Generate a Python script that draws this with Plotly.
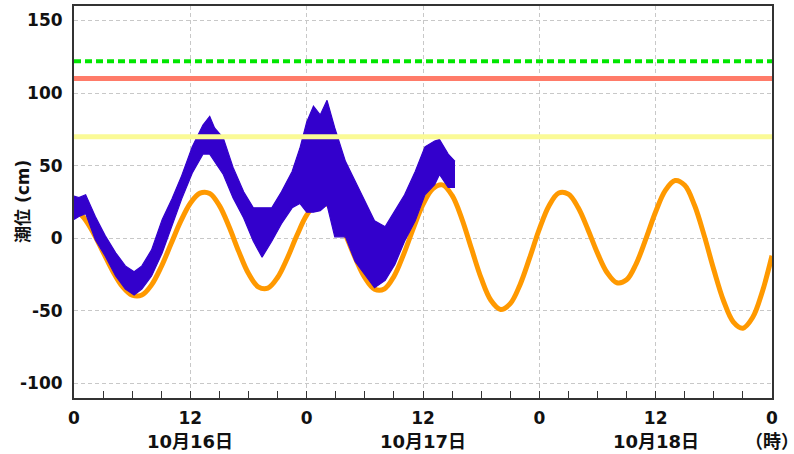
import plotly.graph_objects as go

# ---- data ----
# predicted (astronomical) tide, hourly from 10/16 00:00 to 10/19 00:00
tide_hours = list(range(0, 73))
tide_values = [20.2, 14.3, 3.7, -9.5, -22.7, -33.3, -39.2, -39.1, -32.1, -19.6,
               -4.0, 11.6, 24.2, 31.1, 30.9, 22.5, 7.9, -9.2, -24.3, -33.4,
               -34.3, -27.0, -13.7, 2.1, 15.9, 23.9, 24.0, 16.1, 2.4, -13.4,
               -27.1, -35.0, -34.9, -26.3, -11.1, 6.8, 23.3, 34.1, 36.8, 29.5,
               13.6, -7.1, -27.5, -42.7, -49.0, -45.0, -32.1, -13.5, 6.3, 22.5,
               31.2, 30.4, 21.2, 6.3, -10.2, -23.7, -30.6, -28.6, -17.4, -0.2,
               18.3, 33.0, 39.8, 36.5, 22.9, 2.0, -21.7, -43.0, -57.5, -61.9,
               -54.6, -36.8, -12.0]

# observed tide: envelope (low / high) of the noisy record
obs_hours = [0, 0.5, 1.2, 2.2, 3.2, 4.3, 5.3, 6.2, 7.0, 8.0, 9.1, 10.1, 11.1,
             12.2, 13.3, 14.0, 14.5, 15.4, 16.4, 17.5, 18.5, 19.4, 20.4, 21.4,
             22.5, 23.3, 24.0, 24.7, 25.4, 26.1, 26.9, 28.0, 29.0, 30.0, 31.0, 32.1,
             33.1, 34.1, 35.2, 36.2, 37.2, 37.7, 38.6, 39.3]
obs_high = [29, 28, 30, 15, 2, -10, -19, -23, -19, -8, 13, 27, 43,
            63, 78, 84, 76, 69, 49, 32, 21, 21, 21, 32,
            46, 62, 80, 91, 85, 95, 76, 53, 39, 26, 12, 8,
            19, 30, 46, 63, 67, 68, 58, 53]
obs_low = [13, 15, 17, -1, -12, -26, -35, -39, -35, -26, -10, 8, 27,
           45, 58, 58, 53, 44, 28, 14, -2, -13, -2, 10,
           21, 24, 18, 18, 19, 23, 1, 1, -16, -25, -34, -29,
           -18, -2, 12, 30, 37, 44, 35, 35]

# reference levels (cm)
level_green = 122
level_red = 110
level_yellow = 70

x_tick_vals = [0, 12, 24, 36, 48, 60, 72]
x_tick_text = ["0", "12", "0", "12", "0", "12", "0"]
date_hours = [12, 36, 60, 72]
date_labels = ["10月16日", "10月17日", "10月18日", "（時）"]
y_tick_vals = [-100, -50, 0, 50, 100, 150]
y_tick_text = ["-100", "-50", "0", "50", "100", "150"]

FONT = "DejaVu Sans, Noto Sans CJK JP"
BLUE = "#3300cc"

fig = go.Figure()

fig.add_trace(go.Scatter(x=tide_hours, y=tide_values, mode="lines",
                         line=dict(color="#ff9900", width=5, shape="spline"),
                         hoverinfo="skip"))
fig.add_trace(go.Scatter(x=obs_hours, y=obs_low, mode="lines",
                         line=dict(color=BLUE, width=1.2), hoverinfo="skip"))
fig.add_trace(go.Scatter(x=obs_hours, y=obs_high, mode="lines", fill="tonexty",
                         fillcolor=BLUE,
                         line=dict(color=BLUE, width=1.2), hoverinfo="skip"))

for lvl, col, w, dash in [(level_yellow, "#fafa96", 5, "solid"),
                          (level_red, "#ff7b69", 5, "solid"),
                          (level_green, "#00e600", 4, "7px,4px")]:
    fig.add_trace(go.Scatter(x=[0, 72], y=[lvl, lvl], mode="lines",
                             line=dict(color=col, width=w, dash=dash),
                             hoverinfo="skip"))

for h, lab in zip(date_hours, date_labels):
    fig.add_annotation(x=h, y=0, xref="x", yref="paper", yshift=-43,
                       xanchor="center", yanchor="middle",
                       text=lab, showarrow=False,
                       font=dict(family=FONT, size=18, color="#111", weight="bold"))

fig.add_annotation(x=0, y=0.5, xref="paper", yref="paper", xshift=-51,
                   xanchor="center", yanchor="middle",
                   text="潮位 (cm)", textangle=-90, showarrow=False,
                   font=dict(family=FONT, size=17, color="#111", weight="bold"))

fig.update_layout(
    width=794, height=454,
    margin=dict(l=74, r=22, t=6, b=56),
    paper_bgcolor="white", plot_bgcolor="white",
    showlegend=False,
    font=dict(family=FONT, size=17, color="#111"),
)

fig.update_xaxes(
    range=[0, 72], tickvals=x_tick_vals, ticktext=x_tick_text,
    ticks="inside", ticklen=7, tickcolor="#333", tickwidth=1,
    minor=dict(dtick=3, tick0=0, ticks="inside", ticklen=7, tickcolor="#333",
               showgrid=False),
    showgrid=True, gridcolor="#c8c8c8", griddash="4px,3px", gridwidth=1,
    showline=True, linecolor="#333", linewidth=2, mirror=True,
    tickfont=dict(family=FONT, size=17, color="#111", weight="bold"),
    ticklabelstandoff=4, zeroline=False, automargin=False,
)
fig.update_yaxes(
    range=[-110, 160], tickvals=y_tick_vals, ticktext=y_tick_text,
    ticks="", showgrid=True, gridcolor="#c8c8c8", griddash="4px,3px", gridwidth=1,
    showline=True, linecolor="#333", linewidth=2, mirror=True,
    tickfont=dict(family=FONT, size=17, color="#111", weight="bold"),
    ticklabelstandoff=6, zeroline=False, automargin=False,
)

fig.write_html("out.html", config={"displayModeBar": False},
               post_script="document.body.style.margin='0px';")
